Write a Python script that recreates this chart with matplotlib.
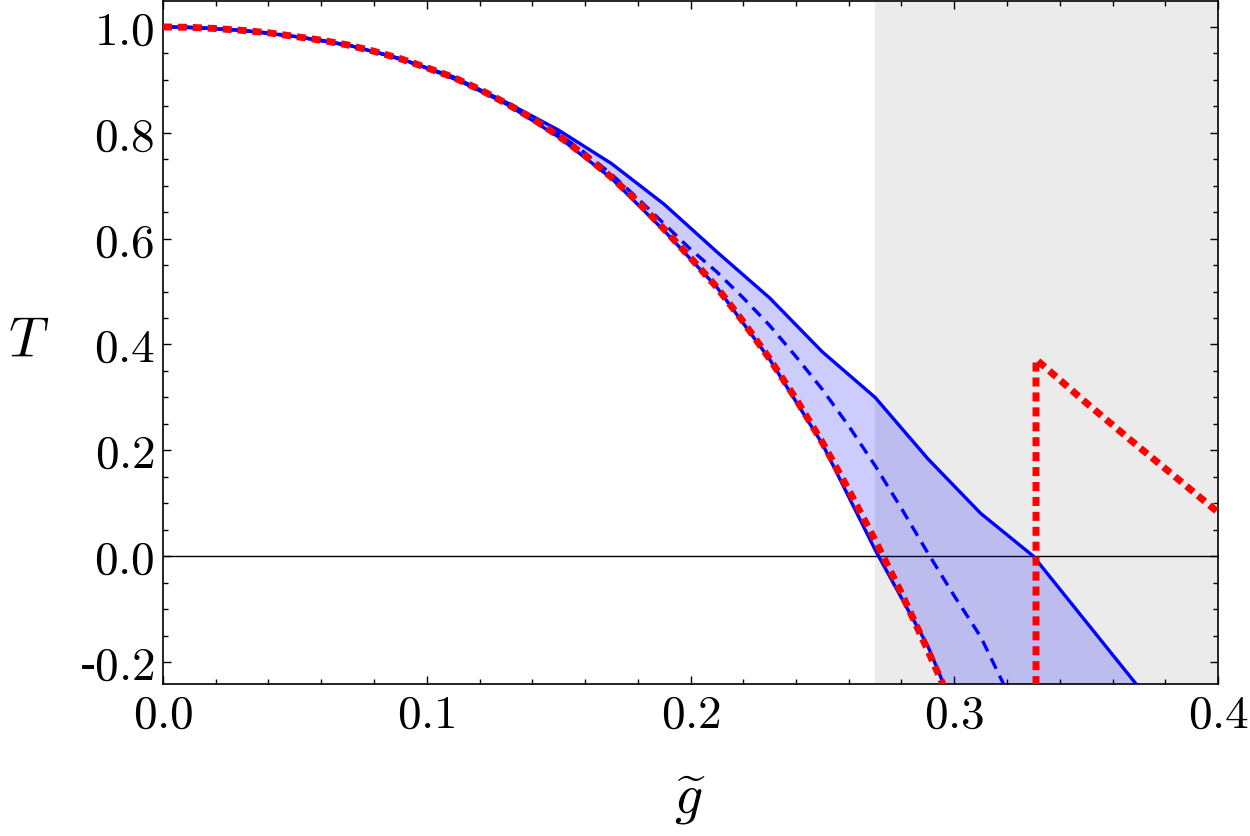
import matplotlib
matplotlib.use("Agg")
import matplotlib.pyplot as plt
from matplotlib.ticker import MultipleLocator, FuncFormatter

plt.rcParams["mathtext.fontset"] = "cm"
plt.rcParams["font.family"] = "serif"
plt.rcParams["font.serif"] = ["DejaVu Serif"]

# upper / lower edges of the band (coarse grid, odd hundredths)
G_BAND = [0.0, 0.01, 0.03, 0.05, 0.07, 0.09, 0.11, 0.13, 0.15, 0.17, 0.19,
          0.21, 0.23, 0.25, 0.27, 0.29, 0.31, 0.33, 0.35, 0.37]
T_UPPER = [1.0, 0.9993, 0.9935, 0.982, 0.966, 0.940, 0.906, 0.858, 0.805,
           0.742, 0.665, 0.575, 0.488, 0.386, 0.300, 0.184, 0.081, 0.0,
           -0.124, -0.248]
T_LOWER = [1.0, 0.9993, 0.9935, 0.982, 0.966, 0.940, 0.904, 0.855, 0.792,
           0.714, 0.615, 0.508, 0.372, 0.212, 0.012, -0.17, -0.41, -0.70,
           -1.0, -1.3]

# middle estimate (dashed)
G_MID = [0.0, 0.02, 0.04, 0.06, 0.08, 0.10, 0.12, 0.14, 0.15, 0.16, 0.17,
         0.18, 0.19, 0.20, 0.21, 0.22, 0.23, 0.24, 0.25, 0.26, 0.27, 0.28,
         0.29, 0.30, 0.31, 0.32, 0.33]
T_MID = [1.0, 0.997, 0.989, 0.975, 0.954, 0.923, 0.882, 0.828, 0.798, 0.762,
         0.722, 0.676, 0.628, 0.580, 0.537, 0.488, 0.436, 0.377, 0.315,
         0.246, 0.171, 0.090, 0.006, -0.075, -0.152, -0.255, -0.37]

# perturbative result (red dotted), two branches
G_PERT = [0.0, 0.01, 0.02, 0.03, 0.04, 0.05, 0.06, 0.07, 0.08, 0.09, 0.10,
          0.11, 0.12, 0.13, 0.14, 0.15, 0.16, 0.17, 0.18, 0.19, 0.20, 0.21,
          0.22, 0.23, 0.24, 0.25, 0.26, 0.27, 0.28, 0.29, 0.30]
T_PERT = [1.0, 0.9993, 0.997, 0.9935, 0.989, 0.982, 0.975, 0.966, 0.954,
          0.940, 0.923, 0.905, 0.882, 0.856, 0.827, 0.794, 0.757, 0.716,
          0.670, 0.618, 0.564, 0.508, 0.443, 0.373, 0.297, 0.215, 0.125,
          0.030, -0.070, -0.178, -0.29]
G_PERT2 = [0.331, 0.331, 0.35, 0.3667, 0.3833, 0.40]
T_PERT2 = [-0.3, 0.372, 0.290, 0.220, 0.152, 0.083]

G_SHADE = [0.27, 0.40]


def tick_text(v, pos):
    # hyphen-style minus like the original
    if abs(v) < 1e-9:
        return "$0.0$"
    if v < 0:
        return "-$%.1f$" % abs(v)
    return "$%.1f$" % v


fig = plt.figure(figsize=(12.5, 8.36), dpi=100)
ax = fig.add_axes([0.1304, 0.1818, 0.8440, 0.8170])

ax.axvspan(G_SHADE[0], G_SHADE[1], color="#ebebeb", lw=0, zorder=0)
ax.axhline(0.0, color="black", lw=1.0, zorder=1)

ax.fill_between(G_BAND, T_LOWER, T_UPPER, color="blue", alpha=0.2, lw=0,
                zorder=2)
ax.plot(G_BAND, T_UPPER, color="blue", lw=2.4, zorder=3)
ax.plot(G_BAND, T_LOWER, color="blue", lw=2.4, zorder=3)
ax.plot(G_MID, T_MID, color="blue", lw=2.4, ls=(0, (3.5, 2.3)), zorder=3)

ax.plot(G_PERT, T_PERT, color="red", lw=5.0, ls=(0, (1.3, 0.85)), zorder=4)
ax.plot(G_PERT2, T_PERT2, color="red", lw=5.0, ls=(0, (1.3, 0.85)), zorder=4)

ax.set_xlim(0.0, 0.4)
ax.set_ylim(-0.2415, 1.049)

ax.xaxis.set_major_locator(MultipleLocator(0.1))
ax.xaxis.set_minor_locator(MultipleLocator(0.02))
ax.yaxis.set_major_locator(MultipleLocator(0.2))
ax.yaxis.set_minor_locator(MultipleLocator(0.05))
ax.xaxis.set_major_formatter(FuncFormatter(tick_text))
ax.yaxis.set_major_formatter(FuncFormatter(tick_text))

ax.tick_params(which="both", direction="in", top=True, right=True,
               labelsize=34, width=1.0)
ax.tick_params(which="major", length=6, pad=6)
ax.tick_params(which="minor", length=3.6)
for s in ax.spines.values():
    s.set_linewidth(1.2)

ax.set_xlabel(r"$\widetilde{g}$", fontsize=40, labelpad=25)
ax.set_ylabel(r"$T$", fontsize=40, rotation=0)
ax.yaxis.set_label_coords(-0.127, 0.462)

fig.savefig("out.png", dpi=100)
